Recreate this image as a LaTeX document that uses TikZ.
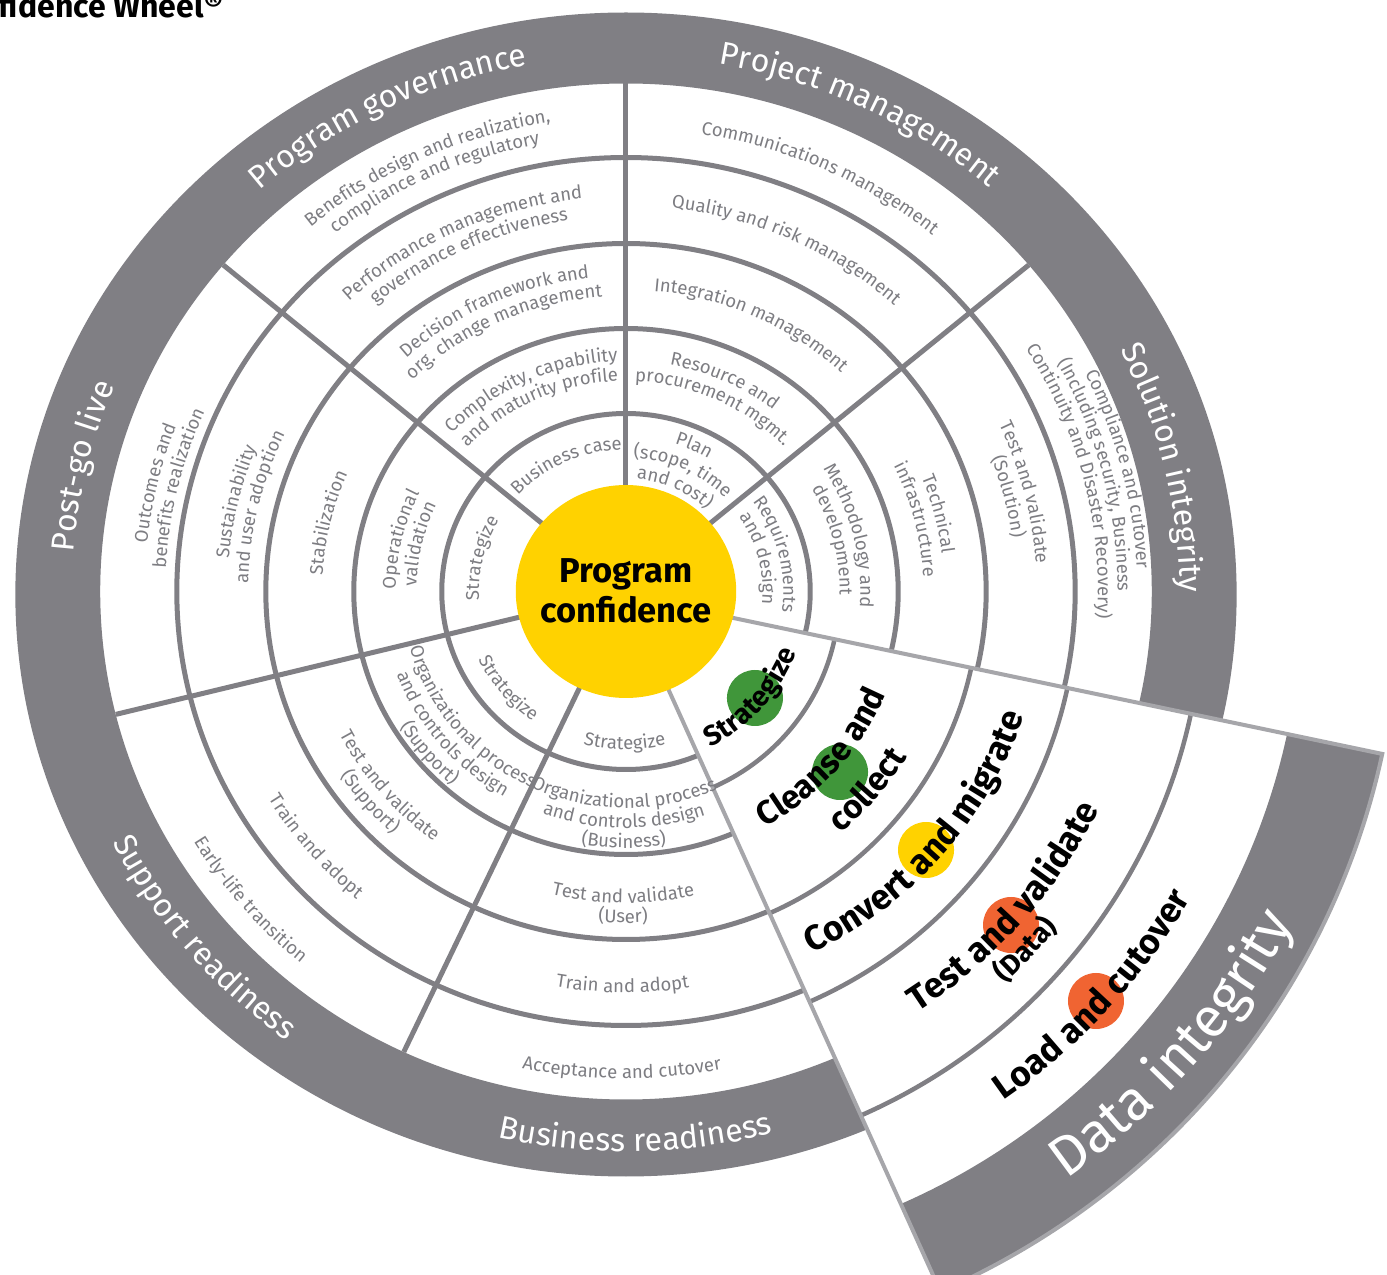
\documentclass[tikz,border=0pt]{standalone}
\usepackage{fontspec}
\setmainfont{Fira Sans}
\usetikzlibrary{decorations.text}
\definecolor{bandgray}{RGB}{128,127,132}
\definecolor{txtgray}{RGB}{125,125,130}
\definecolor{wedgegray}{RGB}{166,166,170}
\definecolor{ecyellow}{RGB}{255,210,0}
\definecolor{dotgreen}{RGB}{64,150,58}
\definecolor{dotorange}{RGB}{240,100,50}
\newcommand\ringfnt{\color{txtgray}\fontsize{18.5}{20}\selectfont}
\newcommand\wedgeS{\color{black}\bfseries\fontsize{28}{30}\selectfont}
\newcommand\wedgeM{\color{black}\bfseries\fontsize{33}{36}\selectfont}
\newcommand\wedgeL{\color{black}\bfseries\fontsize{35}{38}\selectfont}
\newcommand\bandfnt{\color{white}\fontsize{32}{36}\selectfont}
\newcommand\difnt{\color{white}\fontsize{56}{60}\selectfont}
% clockwise text (tops outward): font, centre angle, baseline radius, text
\newcommand\cwt[4]{\path[decorate,decoration={text along path,text align=center,text={|#1|#4}}] ({#2+75}:#3) arc[start angle={#2+75},end angle={#2-75},radius=#3];}
% counter-clockwise text (tops inward)
\newcommand\ccwt[4]{\path[decorate,decoration={text along path,text align=center,text={|#1|#4}}] ({#2-75}:#3) arc[start angle={#2-75},end angle={#2+75},radius=#3];}
% wedge arc: radius
\newcommand\warc[1]{(-12:{#1} and {1.02*#1}) arc[start angle=-12,end angle=-66,x radius=#1,y radius={1.02*#1}]}
\tikzset{
  ringline/.style={draw=bandgray, line width=5pt},
  wedgeline/.style={draw=wedgegray, line width=4pt, line join=miter},
}
\begin{document}
\begin{tikzpicture}[x=1.035pt,y=1pt]
\useasboundingbox (-604.83,-683.5) rectangle (735.27,591.5);
% outer gray band
\fill[bandgray, even odd rule] (0,-3) circle[x radius=590, y radius=582] (0,0) circle[radius=508];
% rings
\foreach \r in {178,263,348,434} \draw[ringline] (0,0) circle[radius=\r];
% dividers
\foreach \a in {90,40,140,-115,-166} \draw[ringline] (\a:100) -- (\a:508);
% exploded data-integrity wedge
\begin{scope}[shift={(0,-4)}]
  \fill[white] (0,0) -- \warc{747} -- cycle;
  \fill[bandgray] \warc{653} -- (-66:{747} and {1.02*747}) arc[start angle=-66,end angle=-12,x radius=747,y radius={1.02*747}] -- cycle;
  \foreach \r in {206,341,436,558} \draw[ringline, line width=4.5pt] \warc{\r};
  \draw[wedgeline] (0,0) -- \warc{747} -- cycle;
\end{scope}
% centre
\fill[ecyellow] (0,0) circle[radius=106.5];
\node[font=\bfseries\fontsize{34.5}{40}\selectfont, anchor=base, inner sep=0] (pc1) at (0,9) {Program};
\node[font=\bfseries\fontsize{34.5}{40}\selectfont, anchor=base, inner sep=0] (pc2) at (0,-31) {confidence};
% title (cropped)
\node[anchor=base west, inner sep=0, font=\bfseries\fontsize{32}{36}\selectfont] (title) at (-606,574) {fidence Wheel\raisebox{4pt}{\fontsize{30}{30}\selectfont ®}};
% dots
\fill[dotgreen] (124.6,-106.5) circle[radius=28pt];
\fill[dotgreen] (206.8,-180.5) circle[radius=28pt];
\fill[ecyellow] (289.9,-258.5) circle[radius=28pt];
\fill[dotorange] (372,-333.5) circle[radius=28pt];
\fill[dotorange] (454.1,-409.5) circle[radius=28pt];
% band titles
\cwt{\bandfnt}{116.5}{535}{Program governance}
\cwt{\bandfnt}{64}{535}{Project management}
\cwt{\bandfnt}{13}{535}{Solution integrity}
\cwt{\bandfnt}{167}{535}{Post-go live}
\ccwt{\bandfnt}{-140.5}{556}{Support readiness}
\ccwt{\bandfnt}{-89}{560}{Business readiness}
\ccwt{\difnt}{-39.8}{725}{Data integrity}
% Program governance
\cwt{\ringfnt}{115}{475}{Benefits design and realization,}
\cwt{\ringfnt}{115}{455}{compliance and regulatory}
\cwt{\ringfnt}{115}{395}{Performance management and}
\cwt{\ringfnt}{115}{375}{governance effectiveness}
\cwt{\ringfnt}{115}{315.5}{Decision framework and}
\cwt{\ringfnt}{115}{295.5}{org. change management}
\cwt{\ringfnt}{115}{230.5}{Complexity, capability}
\cwt{\ringfnt}{115}{210.5}{and maturity profile}
\cwt{\ringfnt}{115}{142}{Business case}
% Project management
\cwt{\ringfnt}{65}{463}{Communications management}
\cwt{\ringfnt}{65}{386}{Quality and risk management}
\cwt{\ringfnt}{65}{301.5}{Integration management}
\cwt{\ringfnt}{65}{230.5}{Resource and}
\cwt{\ringfnt}{65}{210.5}{procurement mgmt.}
\cwt{\ringfnt}{65}{155}{Plan}
\cwt{\ringfnt}{65}{134}{(scope, time}
\cwt{\ringfnt}{65}{113}{and cost)}
% Solution integrity
\cwt{\ringfnt}{14}{494}{Compliance and cutover}
\cwt{\ringfnt}{14}{475}{(Including security, Business}
\cwt{\ringfnt}{14}{456}{Continuity and Disaster Recovery)}
\cwt{\ringfnt}{14}{397}{Test and validate}
\cwt{\ringfnt}{14}{377}{(Solution)}
\cwt{\ringfnt}{14}{307.5}{Technical}
\cwt{\ringfnt}{14}{287.5}{infrastructure}
\cwt{\ringfnt}{14}{226.5}{Methodology and}
\cwt{\ringfnt}{14}{206.5}{development}
\cwt{\ringfnt}{14}{152}{Requirements}
\cwt{\ringfnt}{14}{132}{and design}
% Post-go live
\cwt{\ringfnt}{167}{465}{Outcomes and}
\cwt{\ringfnt}{167}{445}{benefits realization}
\cwt{\ringfnt}{167}{385}{Sustainability}
\cwt{\ringfnt}{167}{365}{and user adoption}
\cwt{\ringfnt}{167}{293.5}{Stabilization}
\cwt{\ringfnt}{167}{222.5}{Operational}
\cwt{\ringfnt}{167}{202.5}{validation}
\cwt{\ringfnt}{167}{142}{Strategize}
% Support readiness
\ccwt{\ringfnt}{-140.5}{487}{Early-life transition}
\ccwt{\ringfnt}{-140.5}{403}{Train and adopt}
\ccwt{\ringfnt}{-140.5}{311.5}{Test and validate}
\ccwt{\ringfnt}{-140.5}{331.5}{(Support)}
\ccwt{\ringfnt}{-140.5}{216.5}{Organizational process}
\ccwt{\ringfnt}{-140.5}{236.5}{and controls design}
\ccwt{\ringfnt}{-140.5}{256.5}{(Support)}
\ccwt{\ringfnt}{-140.5}{158}{Strategize}
% Business readiness
\ccwt{\ringfnt}{-90.5}{487}{Acceptance and cutover}
\ccwt{\ringfnt}{-90.5}{401}{Train and adopt}
\ccwt{\ringfnt}{-90.5}{311.5}{Test and validate}
\ccwt{\ringfnt}{-90.5}{331.5}{(User)}
\ccwt{\ringfnt}{-90.5}{216.5}{Organizational process}
\ccwt{\ringfnt}{-90.5}{236.5}{and controls design}
\ccwt{\ringfnt}{-90.5}{256.5}{(Business)}
\ccwt{\ringfnt}{-90.5}{158}{Strategize}
% Data integrity wedge
\ccwt{\wedgeS}{-40.5}{176}{Strategize}
\ccwt{\wedgeM}{-40.5}{271}{Cleanse and}
\ccwt{\wedgeM}{-39.5}{318}{collect}
\ccwt{\wedgeL}{-40}{404}{Convert and migrate}
\ccwt{\wedgeL}{-40}{506}{Test and validate}
\ccwt{\wedgeS}{-42}{536}{(Data)}
\ccwt{\wedgeL}{-41}{626}{Load and cutover}
\end{tikzpicture}
\end{document}
